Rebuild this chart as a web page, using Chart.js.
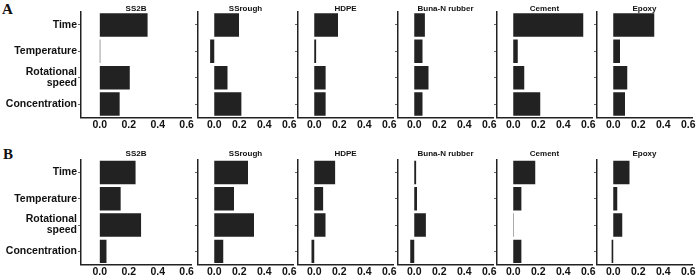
<!DOCTYPE html>
<html lang="en">
<head>
<meta charset="UTF-8" />
<title>Factor importance by surface</title>
<script src="https://cdn.jsdelivr.net/npm/chart.js"></script>
<style>
  * { box-sizing: border-box; }
  body { margin: 0; background: #fff; width: 696px; height: 277px; position: relative; overflow: hidden; }
  canvas { position: absolute; }
  .tag { position: absolute; font-family: 'Liberation Serif', 'Times New Roman', serif; font-weight: bold; font-size: 15px; line-height: 1; color: #111; }
</style>
</head>
<body>
<div class="tag" style="left:2px; top:2px;">A</div>
<div class="tag" style="left:3px; top:147px;">B</div>

<script>
  const categories = ['Time', 'Temperature', ['Rotational', 'speed'], 'Concentration'];
  const surfaces = ['SS2B', 'SSrough', 'HDPE', 'Buna-N rubber', 'Cement', 'Epoxy'];
  const xTicks = [0, 0.2, 0.4, 0.6];

  // panel A
  const ss2bA = [0.330, 0.003, 0.207, 0.137];
  const ssroughA = [0.198, -0.033, 0.106, 0.217];
  const hdpeA = [0.190, 0.015, 0.091, 0.091];
  const bunaA = [0.085, 0.066, 0.114, 0.066];
  const cementA = [0.560, 0.036, 0.088, 0.216];
  const epoxyA = [0.328, 0.054, 0.112, 0.094];

  // panel B
  const ss2bB = [0.247, 0.144, 0.285, 0.046];
  const ssroughB = [0.270, 0.158, 0.318, 0.072];
  const hdpeB = [0.167, 0.071, 0.090, -0.022];
  const bunaB = [0.015, 0.022, 0.093, -0.032];
  const cementB = [0.176, 0.065, 0.003, 0.065];
  const epoxyB = [0.130, 0.032, 0.072, -0.013];

  const FONT = "'Liberation Sans', Arial, Helvetica, sans-serif";
  const INK = '#111';
  const BAR = '#222';

  const axisLeft = [81, 198, 298, 398, 497, 597];
  const plotWidth = [110, 95, 95, 95, 95, 95];
  const rows = [
    { values: [ss2bA, ssroughA, hdpeA, bunaA, cementA, epoxyA], top: 0, height: 140, plotTop: 11.7, plotBottom: 117.3, titleY: 8.3 },
    { values: [ss2bB, ssroughB, hdpeB, bunaB, cementB, epoxyB], top: 140, height: 137, plotTop: 159.3, plotBottom: 264.5, titleY: 154 }
  ];

  const titleSize = 8, titleLH = 0.9;

  function makePanel(row, col) {
    const first = col === 0;
    const canvasLeft = first ? 0 : axisLeft[col] - 8;
    const yW = axisLeft[col] - canvasLeft;
    const padRight = 8;
    const width = yW + plotWidth[col] + padRight;

    const canvas = document.createElement('canvas');
    canvas.width = width;
    canvas.height = row.height;
    canvas.style.left = canvasLeft + 'px';
    canvas.style.top = row.top + 'px';
    document.body.appendChild(canvas);

    const lh = titleSize * titleLH;
    const padTop = row.titleY - row.top - lh / 2;
    const padBottom = row.plotTop - row.top - padTop - lh;
    const xH = row.top + row.height - row.plotBottom;

    new Chart(canvas, {
      type: 'bar',
      data: {
        labels: categories,
        datasets: [{
          data: row.values[col],
          backgroundColor: BAR,
          borderWidth: 0,
          barPercentage: 0.89,
          categoryPercentage: 1
        }]
      },
      options: {
        indexAxis: 'y',
        responsive: false,
        animation: false,
        layout: { padding: { left: 0, right: padRight, top: 0, bottom: 0 } },
        plugins: {
          legend: { display: false },
          tooltip: { enabled: false },
          title: {
            display: true,
            text: surfaces[col],
            fullSize: false,
            color: INK,
            font: { family: FONT, size: titleSize, weight: 'bold', lineHeight: titleLH },
            padding: { top: padTop, bottom: padBottom }
          }
        },
        scales: {
          x: {
            type: 'linear',
            min: -0.13,
            max: 0.63,
            afterBuildTicks: s => { s.ticks = xTicks.map(v => ({ value: v })); },
            afterFit: s => { s.height = xH; },
            grid: { display: false, drawTicks: false },
            border: { display: true, width: 1.5, color: '#222' },
            ticks: {
              padding: 1.5,
              color: INK,
              maxRotation: 0,
              autoSkip: false,
              font: { family: FONT, size: 10.5, weight: 'bold' },
              callback: v => Number(v).toFixed(1)
            }
          },
          y: {
            afterFit: s => { s.width = yW; },
            grid: { display: true, drawOnChartArea: false, drawTicks: true, tickLength: 3, offset: false, color: '#666', lineWidth: 1 },
            border: { display: true, width: 1.5, color: '#222' },
            ticks: {
              display: first,
              padding: 1,
              color: INK,
              font: { family: FONT, size: 10.5, weight: 'bold', lineHeight: 1.05 }
            }
          }
        }
      }
    });
  }

  rows.forEach(row => {
    for (let c = 0; c < surfaces.length; c++) makePanel(row, c);
  });
</script>
</body>
</html>
